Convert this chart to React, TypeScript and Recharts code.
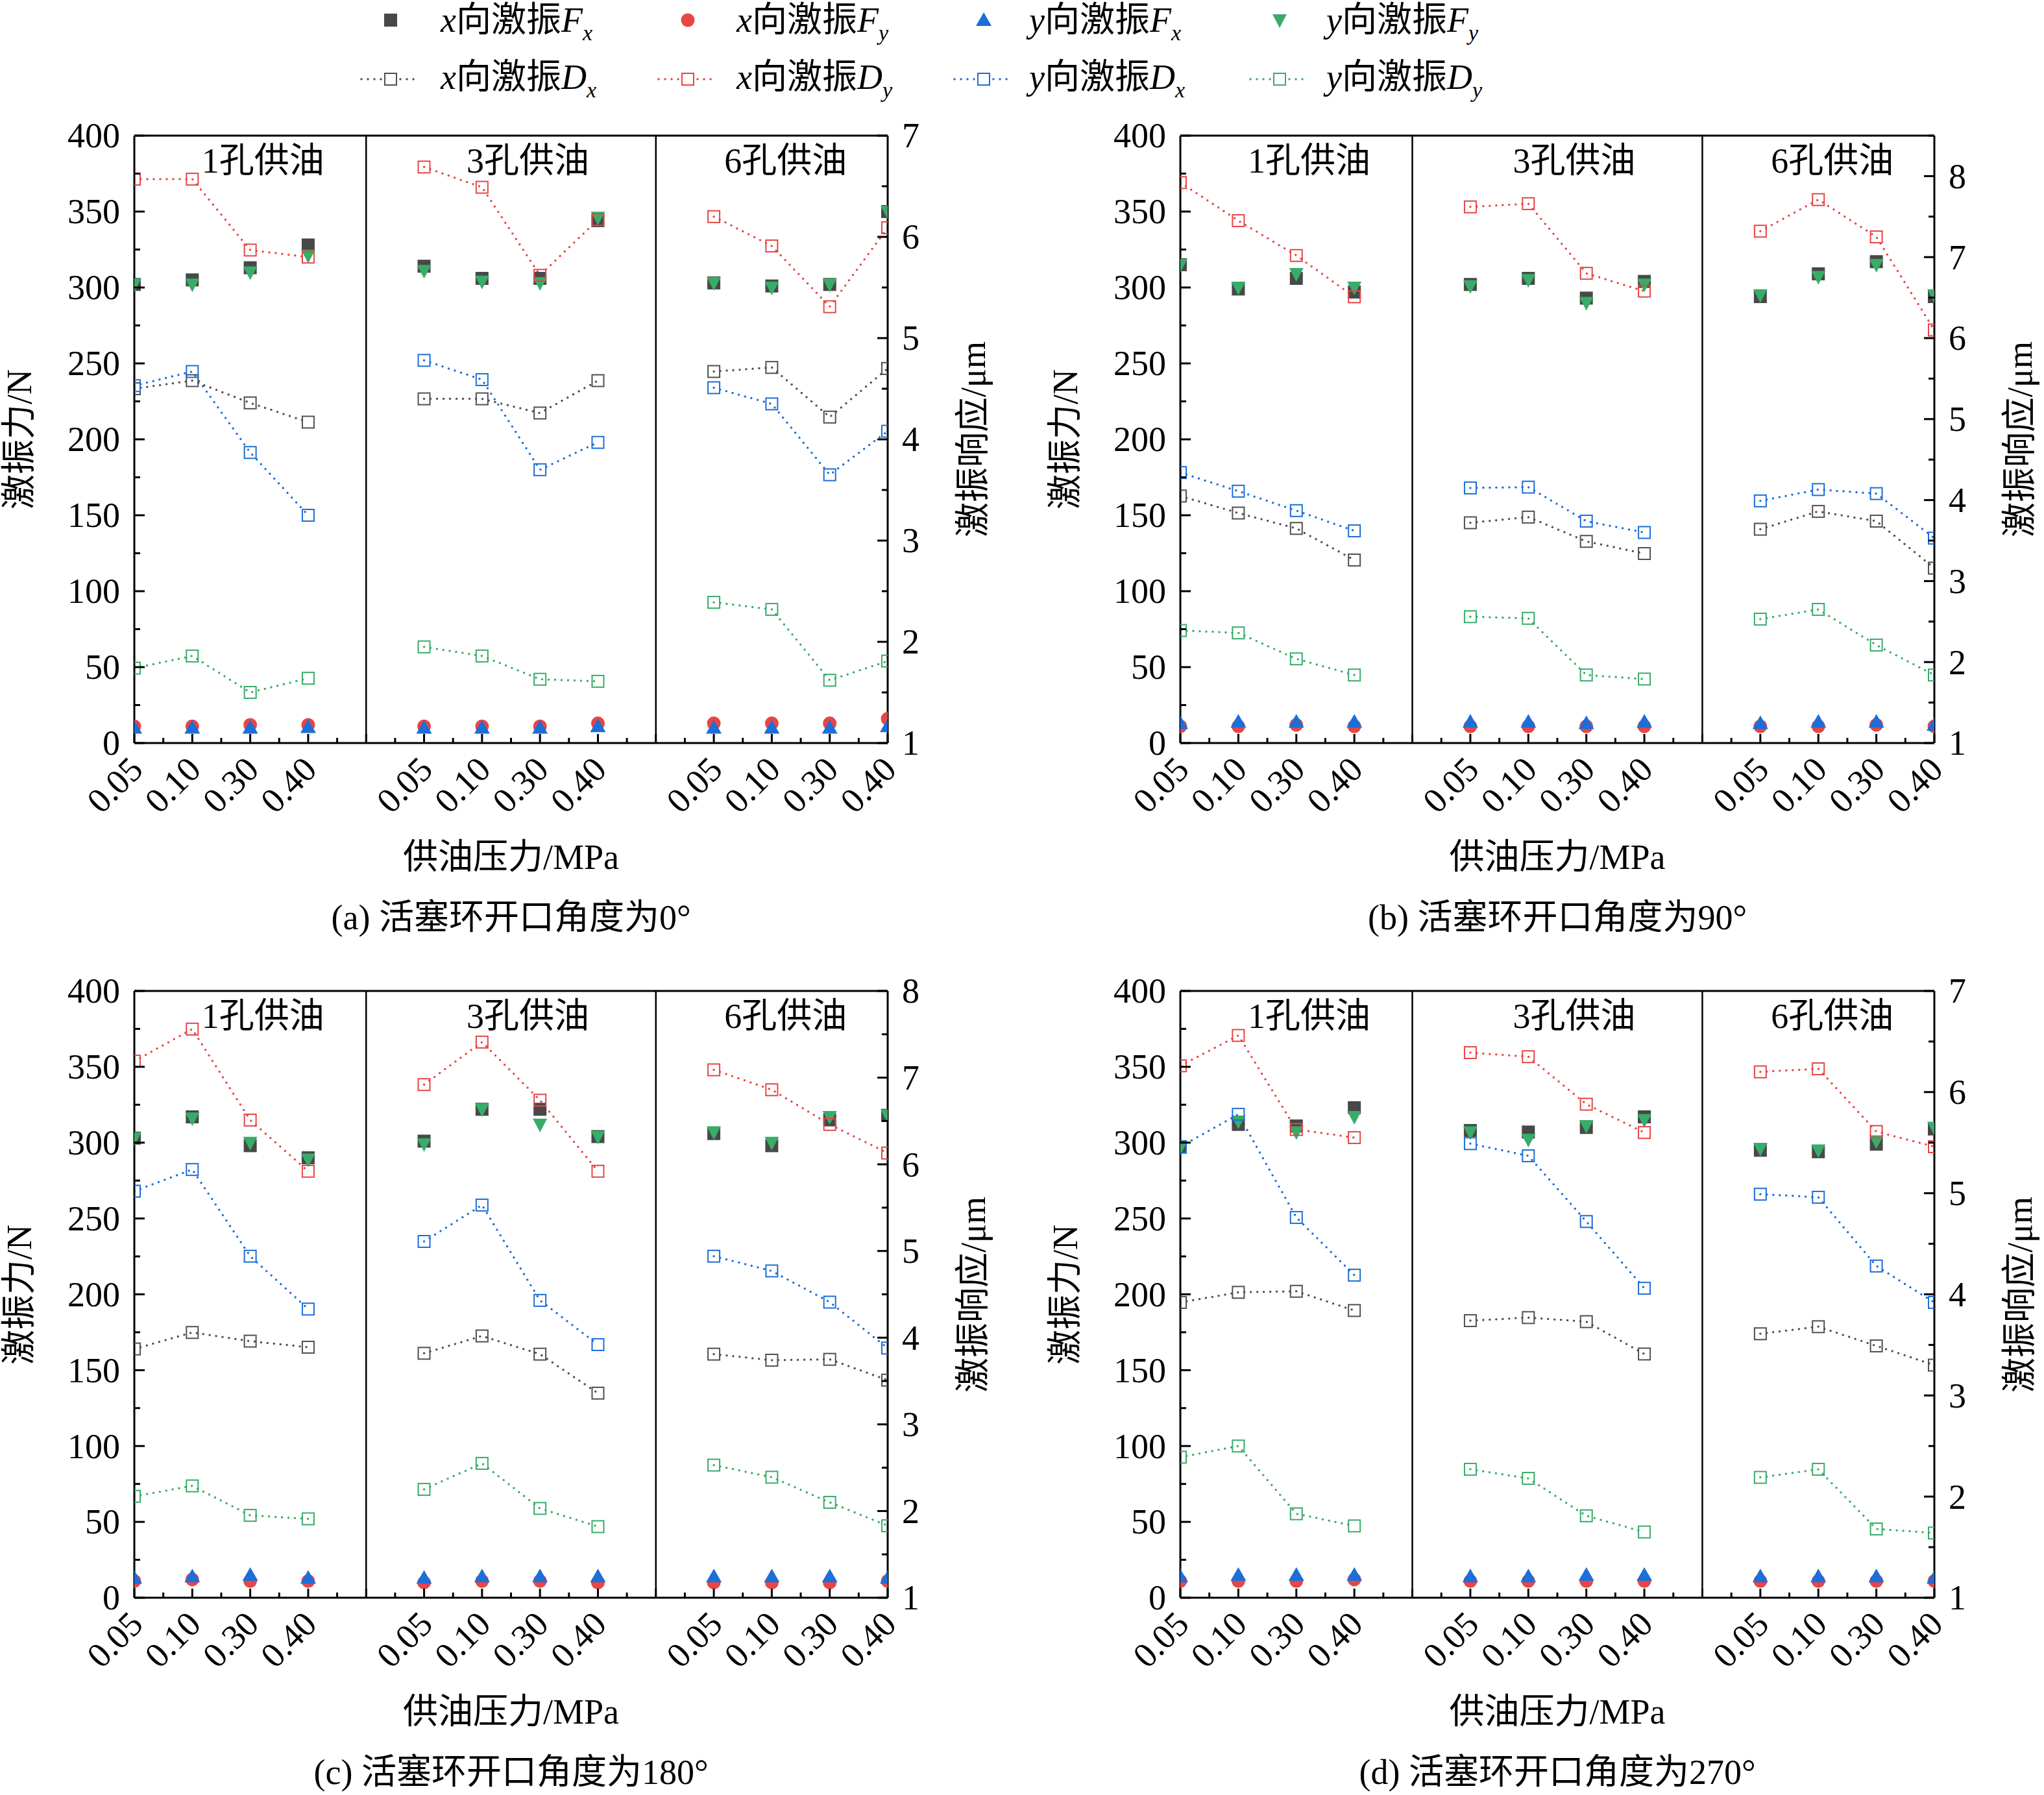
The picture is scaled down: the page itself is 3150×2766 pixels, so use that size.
import React from 'react'
import {
  ComposedChart,
  Line,
  ReferenceDot,
  ReferenceLine,
  Scatter,
  XAxis,
  YAxis,
} from 'recharts'

// x 位置：每组 4 个压力点，5 和 10 为分隔线
const positions = [1, 2, 3, 4, 6, 7, 8, 9, 11, 12, 13, 14]
const pressureLabels = ['0.05', '0.10', '0.30', '0.40']
const groupNames = ['1孔供油', '3孔供油', '6孔供油']
const captions = [
  '(a) 活塞环开口角度为0°',
  '(b) 活塞环开口角度为90°',
  '(c) 活塞环开口角度为180°',
  '(d) 活塞环开口角度为270°',
]

// (a) 0°
const aFxX = [302, 305, 313, 328, 314, 306, 306, 344, 303, 301, 302, 350]
const aFyX = [11, 11, 12, 12, 11, 11, 11, 13, 13, 13, 13, 16]
const aFxY = [10, 10, 10, 10.5, 10, 10, 10, 11, 10, 10, 10, 11]
const aFyY = [302, 302, 310, 321, 311, 304, 303, 346, 303, 300, 302, 350]
const aDxX = [4.5, 4.58, 4.36, 4.17, 4.4, 4.4, 4.26, 4.58, 4.67, 4.71, 4.22, 4.7]
const aDyX = [6.57, 6.57, 5.87, 5.8, 6.69, 6.49, 5.62, 6.17, 6.2, 5.91, 5.31, 6.09]
const aDxY = [4.53, 4.67, 3.87, 3.25, 4.78, 4.59, 3.7, 3.97, 4.51, 4.35, 3.65, 4.08]
const aDyY = [1.74, 1.86, 1.5, 1.64, 1.95, 1.86, 1.63, 1.61, 2.39, 2.32, 1.62, 1.81]

// (b) 90°
const bFxX = [315, 299, 306, 297, 302, 306, 293, 304, 294, 309, 317, 294]
const bFyX = [11, 11, 12, 11, 11, 11, 11, 11, 11, 11, 12, 11]
const bFxY = [13, 14, 14, 14, 14, 14, 13, 14, 13, 14, 14, 12]
const bFyY = [315, 300, 309, 300, 301, 305, 290, 302, 295, 307, 315, 295]
const bDxX = [4.05, 3.84, 3.65, 3.26, 3.72, 3.79, 3.49, 3.34, 3.64, 3.86, 3.74, 3.16]
const bDyX = [7.92, 7.45, 7.02, 6.51, 7.62, 7.66, 6.8, 6.58, 7.32, 7.71, 7.25, 6.1]
const bDxY = [4.34, 4.11, 3.87, 3.62, 4.15, 4.16, 3.74, 3.6, 3.99, 4.13, 4.08, 3.53]
const bDyY = [2.39, 2.36, 2.04, 1.84, 2.56, 2.54, 1.84, 1.79, 2.53, 2.65, 2.21, 1.84]

// (c) 180°
const cFxX = [303, 317, 298, 290, 301, 322, 322, 304, 306, 298, 315, 318]
const cFyX = [11, 12, 11, 11, 10, 11, 11, 10, 10, 10, 10, 11]
const cFxY = [13, 14, 15, 13, 13, 14, 14, 14, 14, 14, 14, 13]
const cFyY = [303, 316, 300, 289, 299, 322, 312, 304, 307, 300, 317, 318]
const cDxX = [3.87, 4.06, 3.96, 3.89, 3.82, 4.02, 3.81, 3.36, 3.81, 3.74, 3.75, 3.51]
const cDyX = [7.19, 7.56, 6.51, 5.92, 6.92, 7.41, 6.74, 5.92, 7.09, 6.86, 6.46, 6.13]
const cDxY = [5.69, 5.94, 4.94, 4.33, 5.11, 5.53, 4.43, 3.92, 4.94, 4.77, 4.41, 3.88]
const cDyY = [2.17, 2.29, 1.95, 1.91, 2.25, 2.55, 2.03, 1.82, 2.53, 2.39, 2.1, 1.83]

// (d) 270°
const dFxX = [297, 312, 311, 323, 308, 307, 310, 317, 295, 294, 299, 309]
const dFyX = [11, 11, 11, 12, 11, 11, 11, 11, 11, 11, 11, 11]
const dFxY = [14, 15, 15, 15, 14, 14, 15, 15, 14, 14, 14, 13]
const dFyY = [297, 314, 307, 317, 307, 302, 311, 315, 296, 295, 301, 310]
const dDxX = [3.92, 4.02, 4.03, 3.84, 3.74, 3.77, 3.73, 3.41, 3.61, 3.68, 3.49, 3.3]
const dDyX = [6.26, 6.56, 5.63, 5.55, 6.39, 6.35, 5.88, 5.6, 6.2, 6.23, 5.61, 5.46]
const dDxY = [5.46, 5.78, 4.76, 4.19, 5.49, 5.37, 4.72, 4.06, 4.99, 4.96, 4.28, 3.92]
const dDyY = [2.39, 2.5, 1.83, 1.71, 2.27, 2.18, 1.81, 1.65, 2.19, 2.27, 1.68, 1.64]

const rightMax = [7, 8.5, 8, 7]

const FONT = "'Liberation Serif', 'Times New Roman', 'Noto Sans CJK SC', serif"
const DARK = '#484848'
const GRAY = '#505050'
const RED = '#e84545'
const BLUE = '#1c6ed8'
const GREEN = '#38ac68'

// plot area boxes: left, top, right, bottom
const boxes = [
  [207, 209, 1368, 1145],
  [1819, 209, 2981, 1145],
  [207, 1527, 1368, 2462],
  [1819, 1527, 2981, 2462],
]
const groupLabelX = [3.22, 7.79, 12.24]

const xTicks: number[] = []
for (let v = 1; v <= 14; v += 0.5) xTicks.push(v)
const leftTicks: number[] = []
for (let v = 0; v <= 400; v += 25) leftTicks.push(v)

type Series = {
  FxX: number[]; FyX: number[]; FxY: number[]; FyY: number[]
  DxX: number[]; DyX: number[]; DxY: number[]; DyY: number[]
}

const panels: Series[] = [
  { FxX: aFxX, FyX: aFyX, FxY: aFxY, FyY: aFyY, DxX: aDxX, DyX: aDyX, DxY: aDxY, DyY: aDyY },
  { FxX: bFxX, FyX: bFyX, FxY: bFxY, FyY: bFyY, DxX: bDxX, DyX: bDyX, DxY: bDxY, DyY: bDyY },
  { FxX: cFxX, FyX: cFyX, FxY: cFxY, FyY: cFyY, DxX: cDxX, DyX: cDyX, DxY: cDxY, DyY: cDyY },
  { FxX: dFxX, FyX: dFyX, FxY: dFxY, FyY: dFyY, DxX: dDxX, DyX: dDyX, DxY: dDxY, DyY: dDyY },
]

const axisLine = { stroke: '#000', strokeWidth: 3 }

function XTick(props: any) {
  const { x, y, payload } = props
  const v = payload.value
  const major = Number.isInteger(v)
  const idx = positions.indexOf(v)
  const tx = x + 16
  const ty = y + 44
  return (
    <g>
      <line x1={x} x2={x} y1={y} y2={y - (major ? 14 : 8)} stroke="#000" strokeWidth={3} />
      {idx >= 0 && (
        <text
          x={tx}
          y={ty}
          transform={`rotate(-45 ${tx} ${ty})`}
          textAnchor="end"
          fontSize={54}
          fontFamily={FONT}
          fill="#000"
        >
          {pressureLabels[idx % 4]}
        </text>
      )}
    </g>
  )
}

function LeftTick(props: any) {
  const { x, y, payload } = props
  const v = payload.value
  const major = v % 50 === 0
  return (
    <g>
      <line x1={x} x2={x + (major ? 16 : 9)} y1={y} y2={y} stroke="#000" strokeWidth={3} />
      {major && (
        <text x={x - 22} y={y} dy="0.34em" textAnchor="end" fontSize={54} fontFamily={FONT} fill="#000">
          {v}
        </text>
      )}
    </g>
  )
}

function RightTick(props: any) {
  const { x, y, payload } = props
  const v = payload.value
  const major = Number.isInteger(v)
  return (
    <g>
      <line x1={x} x2={x - (major ? 16 : 9)} y1={y} y2={y} stroke="#000" strokeWidth={3} />
      {major && (
        <text x={x + 22} y={y} dy="0.34em" textAnchor="start" fontSize={54} fontFamily={FONT} fill="#000">
          {v}
        </text>
      )}
    </g>
  )
}

const hollow = (color: string) => (props: any) => {
  const { cx, cy, index } = props
  if (cx == null || cy == null || isNaN(cx) || isNaN(cy)) return <g key={`e${index}`} />
  return (
    <rect key={`h${index}`} x={cx - 9} y={cy - 9} width={18} height={18} fill="none" stroke={color} strokeWidth={2} />
  )
}

const squareShape = (props: any) => (
  <rect x={props.cx - 10} y={props.cy - 10} width={20} height={20} fill={DARK} />
)
const circleShape = (props: any) => <circle cx={props.cx} cy={props.cy} r={10.5} fill={RED} />
const upShape = (props: any) => {
  const { cx, cy } = props
  return <polygon points={`${cx},${cy - 12} ${cx - 12},${cy + 9} ${cx + 12},${cy + 9}`} fill={BLUE} />
}
const downShape = (props: any) => {
  const { cx, cy } = props
  return <polygon points={`${cx - 11},${cy - 9} ${cx + 11},${cy - 9} ${cx},${cy + 12}`} fill={GREEN} />
}

const textStyle: React.CSSProperties = {
  position: 'absolute',
  fontFamily: FONT,
  fontSize: 54,
  lineHeight: 1,
  whiteSpace: 'nowrap',
  color: '#000',
}

function Panel({ index }: { index: number }) {
  const s = panels[index]
  const [L, T, R, B] = boxes[index]
  const pw = R - L
  const ph = B - T
  const W = pw + 400
  const H = ph + 60 + 160

  const rows: any[] = []
  for (let x = 1; x <= 14; x++) {
    const i = positions.indexOf(x)
    if (i < 0) {
      rows.push({ x })
    } else {
      rows.push({
        x,
        FxX: s.FxX[i], FyX: s.FyX[i], FxY: s.FxY[i], FyY: s.FyY[i],
        DxX: s.DxX[i], DyX: s.DyX[i], DxY: s.DxY[i], DyY: s.DyY[i],
      })
    }
  }
  const pts = rows.filter((r) => positions.includes(r.x))

  const rightTicks: number[] = []
  for (let v = 1; v <= rightMax[index] + 1e-9; v += 0.5) rightTicks.push(v)

  const cx = (L + R) / 2
  const cy = (T + B) / 2

  const lineProps = {
    yAxisId: 'right',
    strokeWidth: 3.5,
    strokeDasharray: '0 10',
    strokeLinecap: 'round' as const,
    isAnimationActive: false,
    connectNulls: false,
  }

  return (
    <>
      <div style={{ position: 'absolute', left: L - 200, top: T - 60 }}>
        <ComposedChart
          width={W}
          height={H}
          data={rows}
          margin={{ top: 60, right: 80, bottom: 20, left: 80 }}
        >
          <XAxis
            dataKey="x"
            type="number"
            domain={[1, 14]}
            ticks={xTicks}
            interval={0}
            allowDataOverflow
            tickSize={0}
            tickMargin={0}
            tickLine={false}
            tick={(p: any) => <XTick {...p} />}
            axisLine={axisLine}
            height={140}
          />
          <YAxis
            yAxisId="left"
            orientation="left"
            type="number"
            domain={[0, 400]}
            ticks={leftTicks}
            interval={0}
            width={120}
            tickSize={0}
            tickMargin={0}
            tickLine={false}
            tick={(p: any) => <LeftTick {...p} />}
            axisLine={axisLine}
          />
          <YAxis
            yAxisId="right"
            orientation="right"
            type="number"
            domain={[1, rightMax[index]]}
            ticks={rightTicks}
            interval={0}
            width={120}
            tickSize={0}
            tickMargin={0}
            tickLine={false}
            tick={(p: any) => <RightTick {...p} />}
            axisLine={axisLine}
          />
          <ReferenceLine yAxisId="left" y={400} stroke="#000" strokeWidth={3} />
          <ReferenceLine yAxisId="left" x={5} stroke="#000" strokeWidth={2.5} />
          <ReferenceLine yAxisId="left" x={10} stroke="#000" strokeWidth={2.5} />

          <Scatter yAxisId="left" data={pts} dataKey="FxX" shape={squareShape} isAnimationActive={false} />
          <Scatter yAxisId="left" data={pts} dataKey="FyX" shape={circleShape} isAnimationActive={false} />
          <Scatter yAxisId="left" data={pts} dataKey="FxY" shape={upShape} isAnimationActive={false} />
          <Scatter yAxisId="left" data={pts} dataKey="FyY" shape={downShape} isAnimationActive={false} />

          <Line {...lineProps} dataKey="DxX" stroke={GRAY} dot={hollow(GRAY)} />
          <Line {...lineProps} dataKey="DyX" stroke={RED} dot={hollow(RED)} />
          <Line {...lineProps} dataKey="DxY" stroke={BLUE} dot={hollow(BLUE)} />
          <Line {...lineProps} dataKey="DyY" stroke={GREEN} dot={hollow(GREEN)} />

          {groupNames.map((g, i) => (
            <ReferenceDot
              key={g}
              yAxisId="left"
              x={groupLabelX[i]}
              y={384}
              r={0}
              fill="none"
              stroke="none"
              label={{ value: g, position: 'center', fontSize: 54, fontFamily: FONT, fill: '#000' }}
            />
          ))}
        </ComposedChart>
      </div>
      <div style={{ ...textStyle, left: L - 177, top: cy, transform: 'translate(-50%, -50%) rotate(-90deg)' }}>
        激振力/N
      </div>
      <div style={{ ...textStyle, left: R + 132, top: cy, transform: 'translate(-50%, -50%) rotate(-90deg)' }}>
        激振响应/μm
      </div>
      <div style={{ ...textStyle, left: cx, top: B + 176, transform: 'translate(-50%, -50%)' }}>
        供油压力/MPa
      </div>
      <div style={{ ...textStyle, left: cx, top: B + 269, transform: 'translate(-50%, -50%)' }}>
        {captions[index]}
      </div>
    </>
  )
}

const legendDirs = ['x', 'x', 'y', 'y']
const legendSubs = ['x', 'y', 'x', 'y']
const legendMarkX = [602, 1060, 1516, 1972]
const legendTextX = [679, 1135, 1586, 2044]
const legendColors = [GRAY, RED, BLUE, GREEN]

function LegendMarker({ i, x, y }: { i: number; x: number; y: number }) {
  const p = { cx: x, cy: y }
  if (i === 0) return squareShape(p)
  if (i === 1) return circleShape(p)
  if (i === 2) return upShape(p)
  return downShape(p)
}

function LegendLabel({ x, y, dir, f, sub }: { x: number; y: number; dir: string; f: string; sub: string }) {
  return (
    <text x={x} y={y} fontSize={54} fontFamily={FONT} fill="#000">
      <tspan fontStyle="italic">{dir}</tspan>
      <tspan>向激振</tspan>
      <tspan fontStyle="italic">{f}</tspan>
      <tspan fontStyle="italic" fontSize={34} dy={13}>
        {sub}
      </tspan>
    </text>
  )
}

function TopLegend() {
  return (
    <svg width={3150} height={180} style={{ position: 'absolute', left: 0, top: 0 }}>
      {legendDirs.map((d, i) => (
        <g key={`f${i}`}>
          <LegendMarker i={i} x={legendMarkX[i]} y={31} />
          <LegendLabel x={legendTextX[i]} y={49} dir={d} f="F" sub={legendSubs[i]} />
        </g>
      ))}
      {legendDirs.map((d, i) => (
        <g key={`d${i}`}>
          <line
            x1={legendMarkX[i] - 45}
            x2={legendMarkX[i] + 45}
            y1={122}
            y2={122}
            stroke={legendColors[i]}
            strokeWidth={3.5}
            strokeDasharray="0 10"
            strokeLinecap="round"
          />
          <rect
            x={legendMarkX[i] - 9}
            y={113}
            width={18}
            height={18}
            fill="#fff"
            stroke={legendColors[i]}
            strokeWidth={2}
          />
          <LegendLabel x={legendTextX[i]} y={137} dir={d} f="D" sub={legendSubs[i]} />
        </g>
      ))}
    </svg>
  )
}

export default function App() {
  return (
    <div
      style={{
        position: 'absolute',
        left: 0,
        top: 0,
        width: 3150,
        height: 2766,
        background: '#fff',
        fontFamily: FONT,
      }}
    >
      <TopLegend />
      {[0, 1, 2, 3].map((i) => (
        <Panel key={i} index={i} />
      ))}
    </div>
  )
}
